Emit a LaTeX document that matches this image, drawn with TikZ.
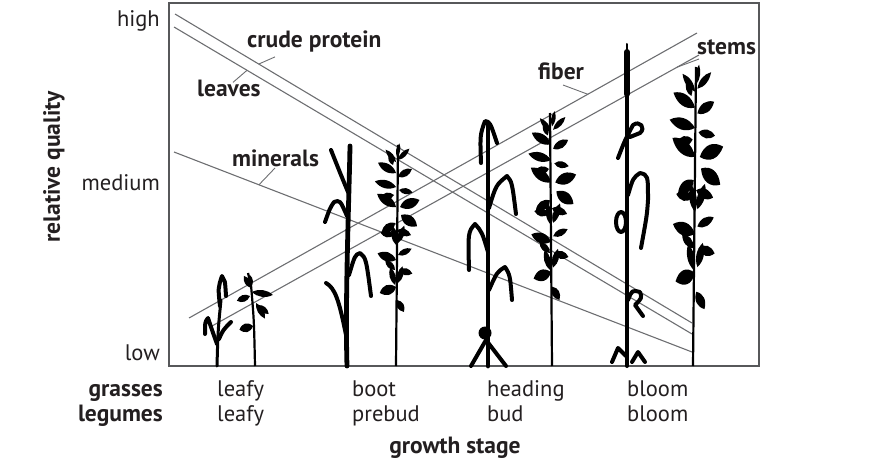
\documentclass[tikz,border=0pt]{standalone}
\usepackage{fontspec}
\setmainfont{PT Sans}
\usepackage{tikz}
\usetikzlibrary{calc}
\definecolor{ink}{HTML}{231F20}
\definecolor{rule}{HTML}{6D6E71}
\tikzset{
  frame/.style={draw=rule!80!black, line width=1.3pt},
  quality/.style={draw=rule, line width=1.1pt},
  leader/.style={draw=rule, line width=0.9pt},
  tick/.style={font=\fontsize{22.5}{26}\selectfont, text=ink, inner sep=0pt},
  curve/.style={font=\bfseries\fontsize{23.5}{26}\selectfont, text=ink, inner sep=0pt},
  blade/.style={line width=4pt, line cap=round, line join=round},
  grassstem/.style={line width=4.8pt, line cap=round},
  legstem/.style={line width=2.2pt},
  pics/legume/.style={code={
    \foreach \dx/\dy/\ang/\lng/\wid in {1/12/80/12/2, 2/15/45/14/2.5, 0/17/130/14/2.5, -3/20/110/10/2.5,
        0/28/150/18/4, 2/32/30/14/3.5, 0/42/165/19/4, 3/45/-10/12/3, -2/50/190/12/3.5,
        0/62/145/20/4.5, 4/62/20/18/5, 5/70/-35/17/5, -1/78/215/14/4, 1/85/-20/13/3.5,
        -2/90/170/12/3.5, 0/100/100/17/3, 2/98/70/16/3, 0/115/160/17/4.5, 2/110/25/13/3,
        3/125/-15/12/3.5, -1/125/135/12/3, -1/140/105/16/3, 2/138/75/15/3,
        0/142/200/15/5, 1/155/-60/12/3.5}
      \fill[shift={(\dx,\dy)}, rotate=\ang] (0,0) .. controls (0.35*\lng,1.4*\wid) and (0.8*\lng,1.3*\wid) .. (1.15*\lng,0)
        .. controls (0.8*\lng,-1.3*\wid) and (0.35*\lng,-1.4*\wid) .. (0,0);
  }}
}
\newcommand{\leaf}[5]{\fill[shift={(#1,#2)}, rotate=#3] (0,0) .. controls (0.3*#4,1.3*#5) and (0.7*#4,1.3*#5) .. (#4,0)
  .. controls (0.7*#4,-1.3*#5) and (0.3*#4,-1.3*#5) .. (0,0);}

\begin{document}
\begin{tikzpicture}[x=1pt,y=-1pt]
  \useasboundingbox (0,0) rectangle (875,468);
  \draw[frame] (169,3) rectangle (759,366);

  % quality curves
  \coordinate (cp-a) at (175,14);  \coordinate (cp-b) at (692,323);
  \coordinate (lv-a) at (174,27);  \coordinate (lv-b) at (692,334);
  \coordinate (mn-a) at (174,152); \coordinate (mn-b) at (692,352);
  \coordinate (fb-a) at (189,318); \coordinate (fb-b) at (697,33);
  \coordinate (st-a) at (212,326); \coordinate (st-b) at (699,55);
  \foreach \n in {cp,lv,mn,fb,st}
    \draw[quality] (\n-a) -- (\n-b);

  \node[curve, anchor=base west] (cptext) at (247,48) {crude protein};
  \node[curve, anchor=base west] (lvtext) at (197,97) {leaves};
  \node[curve, anchor=base west] (mntext) at (232,166) {minerals};
  \node[curve, anchor=base west] (fbtext) at (538,80) {fiber};
  \node[curve, anchor=base west] (sttext) at (697,55) {stems};
  \draw[leader] ([xshift=28pt,yshift=-4pt]cptext.south west) -- ($(cp-a)!0.162!(cp-b)$);
  \draw[leader] ([xshift=36pt,yshift=-2pt]lvtext.north west) -- ($(lv-a)!0.141!(lv-b)$);
  \draw[leader] ([xshift=43pt,yshift=-2pt]mntext.base west) -- ($(mn-a)!0.164!(mn-b)$);
  \draw[leader] ([xshift=25pt,yshift=-5pt]fbtext.base west) -- ($(fb-a)!0.785!(fb-b)$);
  \draw[leader] ([xshift=2pt,yshift=-4pt]sttext.base west) -- ($(st-a)!0.955!(st-b)$);

  % leafy
  \draw[blade, line width=3pt] (217,366) .. controls (218,330) .. (221,300);
  \draw[blade] (220,306) .. controls (218,288) .. (222,276) .. controls (225,280) .. (226,296);
  \draw[blade] (217,344) .. controls (212,330) .. (208,318) .. controls (205,322) .. (205,334);
  \draw[blade] (219,339) .. controls (223,330) .. (231,322);
  \draw[legstem] (255,366) .. controls (254,320) .. (251,285) -- (248,273);
  \leaf{251}{288}{120}{14}{3} \leaf{251}{287}{95}{12}{2.5}
  \leaf{252}{292}{-8}{21}{3.5} \leaf{250}{296}{200}{14}{3.5}
  \leaf{256}{303}{-60}{18}{3} \leaf{258}{305}{-40}{14}{3}
  \leaf{253}{326}{195}{14}{4.5}

  % boot
  \draw[grassstem] (347,366) .. controls (345,300) and (349,200) .. (350,146);
  \draw[blade] (348,192) .. controls (338,168) and (333,155) .. (331,150);
  \draw[blade] (347,216) .. controls (340,200) .. (334,202) .. controls (330,208) .. (325,222);
  \draw[blade] (349,275) .. controls (355,255) .. (360,253) .. controls (366,258) .. (371,296);
  \draw[blade] (346,335) .. controls (339,300) and (335,288) .. (326,283);
  \draw[legstem] (396,366) -- (398,145);
  \pic at (396,145) {legume};

  % heading
  \draw[grassstem] (488,366) -- (488,124);
  \draw[blade] (481,163) .. controls (480,135) .. (485,121) .. controls (490,122) .. (497,143);
  \draw[blade] (489,208) .. controls (496,185) .. (507,176) .. controls (512,182) .. (516,214);
  \draw[blade] (488,252) .. controls (482,232) .. (475,224) .. controls (468,232) .. (469,270);
  \draw[blade] (489,290) .. controls (497,272) .. (505,267) .. controls (510,275) .. (512,300);
  \fill (485,333) circle (6.5);
  \draw[blade, line width=4pt] (471,366) -- (486,340) -- (506,366);
  \draw[legstem] (552,366) -- (550,113);
  \pic[xscale=1.07, yscale=1.12] at (551,113) {legume};

  % bloom
  \draw[grassstem, line width=4pt] (627,366) -- (627,92);
  \draw[grassstem, line width=6pt] (627,94) -- (627,52);
  \draw[blade, line width=2pt] (627,52) -- (627,44);
  \draw[blade] (618,158) .. controls (625,140) .. (633,125) .. controls (640,120) and (646,128) .. (640,133) -- (630,137);
  \draw[blade] (628,195) .. controls (633,178) .. (640,173) .. controls (648,175) .. (648,200) .. controls (647,215) .. (641,248);
  \draw[blade] (621,222) ellipse (5 and 10);
  \draw[blade] (628,300) .. controls (632,290) .. (640,292) .. controls (642,298) .. (635,305) -- (643,316);
  \draw[blade] (612,362) -- (618,348) -- (626,356) (632,362) -- (638,352) -- (645,362);
  \draw[legstem] (693,366) -- (696,67);
  \pic[xscale=1.2, yscale=1.45] at (695,67) {legume};

  % axes
  \node[tick, anchor=base east] (high) at (160,27) {high};
  \node[tick, anchor=base east] (medium) at (160,190) {medium};
  \node[tick, anchor=base east] (low) at (160,360) {low};
  \node[curve, rotate=90] (quality) at (54,167) {relative quality};
  \node[curve, anchor=base east] (grasses) at (163,396) {grasses};
  \node[curve, anchor=base east] (legumes) at (163,421) {legumes};
  \foreach \x/\top/\bot in {217/leafy/leafy, 352/boot/prebud, 487/heading/bud, 627/bloom/bloom} {
    \node[tick, anchor=base west] (g-\x) at (\x,396) {\top};
    \node[tick, anchor=base west] (l-\x) at (\x,421) {\bot};
  }
  \node[curve] (stage) at (455,448) {growth stage};
\end{tikzpicture}
\end{document}
